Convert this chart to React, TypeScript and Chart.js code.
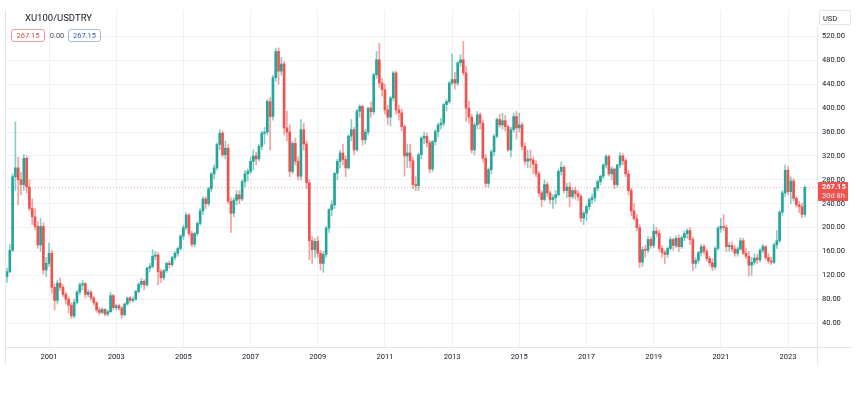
import React, { useEffect, useRef } from "react";
import { Chart, registerables } from "chart.js";

Chart.register(...registerables);

// ---- Data: monthly candles, Oct 1999 .. Jul 2023 ----
const startYear = 1999;
const startMonth = 10;

const opens = [
  118, 126, 162,
  285, 300, 280, 272, 316, 268, 232, 218, 202, 171, 202, 129,
  140, 157, 100, 78, 107, 100, 88, 80, 70, 52, 75, 92,
  104, 106, 88, 92, 82, 74, 62, 58, 63, 55, 59, 86,
  66, 69, 65, 54, 72, 82, 78, 80, 93, 105, 110, 104,
  132, 135, 152, 154, 126, 116, 128, 140, 138, 150, 157, 165,
  186, 200, 221, 190, 172, 190, 207, 228, 248, 240, 265, 290,
  300, 339, 358, 322, 333, 244, 224, 246, 255, 248, 277, 290,
  294, 311, 320, 315, 336, 358, 360, 411, 386, 451, 495, 462,
  474, 367, 360, 294, 341, 311, 286, 364, 340, 275, 178, 163,
  177, 157, 140, 155, 199, 230, 238, 291, 311, 325, 314, 300,
  353, 364, 330, 395, 403, 347, 360, 400, 394, 456, 481, 442,
  431, 397, 385, 417, 459, 397, 392, 369, 320, 325, 312, 272,
  270, 322, 350, 353, 342, 298, 344, 361, 372, 375, 406, 411,
  442, 448, 442, 476, 481, 459, 400, 385, 330, 372, 389, 375,
  316, 274, 297, 327, 353, 381, 372, 379, 369, 330, 364, 386,
  367, 372, 336, 311, 315, 313, 306, 290, 258, 247, 272, 258,
  247, 250, 255, 294, 301, 262, 268, 252, 262, 257, 252, 216,
  224, 235, 247, 250, 266, 277, 286, 305, 319, 290, 298, 272,
  305, 320, 312, 290, 262, 228, 215, 200, 142, 163, 162, 180,
  170, 194, 190, 165, 158, 155, 165, 180, 170, 182, 168, 183,
  190, 195, 180, 140, 145, 158, 168, 160, 148, 141, 134, 165,
  199, 202, 200, 168, 170, 164, 157, 164, 178, 157, 152, 137,
  142, 149, 146, 162, 168, 150, 144, 142, 171, 178, 226, 258,
  296, 260, 278, 249, 238, 235, 222,
];

const highs = [
  132, 172, 290,
  377, 318, 292, 322, 320, 280, 248, 232, 210, 215, 208, 150,
  174, 162, 106, 112, 116, 104, 92, 84, 74, 80, 95, 108,
  112, 108, 96, 95, 85, 76, 66, 66, 64, 62, 92, 88,
  72, 72, 68, 74, 84, 85, 84, 95, 108, 115, 113, 134,
  140, 163, 160, 158, 130, 130, 142, 144, 152, 160, 168, 188,
  204, 225, 224, 194, 192, 210, 232, 252, 252, 268, 292, 305,
  342, 364, 362, 345, 340, 250, 250, 262, 262, 280, 296, 298,
  318, 330, 326, 340, 362, 368, 415, 418, 455, 500, 501, 485,
  478, 395, 372, 345, 350, 318, 381, 375, 345, 280, 185, 182,
  185, 162, 160, 202, 232, 245, 292, 315, 330, 340, 320, 356,
  381, 368, 398, 406, 405, 365, 402, 410, 458, 495, 509, 450,
  440, 405, 420, 462, 462, 405, 398, 372, 340, 340, 318, 285,
  325, 352, 360, 358, 346, 346, 364, 375, 383, 408, 415, 445,
  491, 460, 478, 490, 512, 470, 412, 390, 376, 395, 392, 380,
  322, 300, 330, 356, 384, 390, 392, 388, 372, 368, 392, 395,
  392, 376, 342, 330, 330, 318, 312, 294, 262, 280, 276, 262,
  255, 262, 298, 310, 304, 274, 276, 266, 268, 262, 256, 228,
  238, 250, 256, 268, 280, 288, 306, 322, 322, 302, 300, 306,
  325, 324, 316, 296, 266, 240, 222, 205, 168, 170, 185, 184,
  205, 200, 196, 170, 162, 168, 184, 182, 186, 188, 186, 194,
  198, 200, 184, 150, 160, 172, 172, 164, 152, 148, 168, 202,
  215, 222, 204, 175, 176, 170, 168, 183, 182, 165, 160, 150,
  156, 155, 165, 172, 170, 156, 150, 174, 195, 228, 262, 305,
  302, 285, 282, 252, 244, 240, 270,
];

const lows = [
  108, 124, 160,
  262, 238, 255, 262, 258, 228, 205, 196, 165, 160, 122, 118,
  135, 90, 62, 72, 95, 84, 72, 57, 48, 49, 72, 88,
  96, 82, 84, 78, 70, 58, 54, 56, 52, 52, 58, 62,
  62, 62, 48, 52, 70, 74, 75, 78, 90, 100, 96, 102,
  126, 132, 146, 104, 108, 112, 125, 132, 135, 146, 152, 162,
  180, 196, 186, 168, 168, 186, 204, 222, 232, 236, 260, 282,
  296, 330, 318, 315, 240, 192, 218, 238, 240, 245, 268, 278,
  290, 296, 305, 312, 330, 340, 355, 330, 380, 445, 440, 455,
  355, 345, 285, 290, 305, 280, 280, 330, 265, 146, 140, 150,
  150, 129, 125, 150, 192, 220, 232, 280, 300, 305, 285, 298,
  345, 322, 328, 385, 338, 340, 355, 385, 390, 450, 435, 420,
  390, 372, 370, 412, 390, 380, 362, 286, 300, 300, 265, 262,
  262, 315, 340, 335, 292, 294, 338, 352, 365, 370, 395, 408,
  438, 432, 438, 470, 455, 378, 375, 325, 322, 365, 365, 310,
  268, 268, 290, 320, 350, 368, 365, 362, 328, 318, 360, 348,
  360, 330, 305, 300, 300, 290, 285, 252, 235, 244, 252, 240,
  232, 240, 252, 288, 258, 250, 235, 248, 248, 245, 210, 205,
  212, 230, 240, 244, 262, 272, 282, 300, 286, 280, 265, 268,
  300, 305, 285, 255, 220, 212, 195, 133, 135, 150, 158, 165,
  166, 185, 160, 150, 140, 150, 162, 162, 166, 160, 165, 178,
  182, 172, 128, 132, 140, 152, 155, 144, 136, 128, 130, 162,
  192, 195, 160, 160, 160, 152, 152, 162, 155, 148, 119, 120,
  138, 140, 142, 158, 146, 140, 138, 140, 165, 175, 220, 252,
  255, 240, 245, 234, 225, 216, 218,
];

const closes = [
  126, 162, 285,
  300, 280, 272, 316, 268, 232, 218, 202, 171, 202, 129, 140,
  157, 100, 78, 107, 100, 88, 80, 70, 52, 75, 92, 104,
  106, 88, 92, 82, 74, 62, 58, 63, 55, 59, 86, 66,
  69, 65, 54, 72, 82, 78, 80, 93, 105, 110, 104, 132,
  135, 152, 154, 126, 116, 128, 140, 138, 150, 157, 165, 186,
  200, 221, 190, 172, 190, 207, 228, 248, 240, 265, 290, 300,
  339, 358, 322, 333, 244, 224, 246, 255, 248, 277, 290, 294,
  311, 320, 315, 336, 358, 360, 411, 386, 451, 495, 462, 474,
  367, 360, 294, 341, 311, 286, 364, 340, 275, 178, 163, 177,
  157, 140, 155, 199, 230, 238, 291, 311, 325, 314, 300, 353,
  364, 330, 395, 403, 347, 360, 400, 394, 456, 481, 442, 431,
  397, 385, 417, 459, 397, 392, 369, 320, 325, 312, 272, 270,
  322, 350, 353, 342, 298, 344, 361, 372, 375, 406, 411, 442,
  448, 442, 476, 481, 459, 400, 385, 330, 372, 389, 375, 316,
  274, 297, 327, 353, 381, 372, 379, 369, 330, 364, 386, 367,
  372, 336, 311, 315, 313, 306, 290, 258, 247, 272, 258, 247,
  250, 255, 294, 301, 262, 268, 252, 262, 257, 252, 216, 224,
  235, 247, 250, 266, 277, 286, 305, 319, 290, 298, 272, 305,
  320, 312, 290, 262, 228, 215, 200, 142, 163, 162, 180, 170,
  194, 190, 165, 158, 155, 165, 180, 170, 182, 168, 183, 190,
  195, 180, 140, 145, 158, 168, 160, 148, 141, 134, 165, 199,
  202, 200, 168, 170, 164, 157, 164, 178, 157, 152, 137, 142,
  149, 146, 162, 168, 150, 144, 142, 171, 178, 226, 258, 296,
  260, 278, 249, 238, 235, 222, 267.15,
];

const yTickValues = [40, 80, 120, 160, 200, 240, 280, 320, 360, 400, 440, 480, 520];
const xTickYears = [2001, 2003, 2005, 2007, 2009, 2011, 2013, 2015, 2017, 2019, 2021, 2023];

const symbolTitle = "XU100/USDTRY";
const lastPrice = 267.15;
const changeText = "0.00";
const countdownText = "30d 8h";
const currencyText = "USD";

// ---- Styles ----
const UP = "#26a69a";
const DOWN = "#ef5350";
const UP_WICK = "rgba(38,166,154,0.55)";
const DOWN_WICK = "rgba(239,83,80,0.55)";
const GRID = "#f0f1f4";
const BORDER = "#e3e5ea";
const TEXT = "#131722";
const FONT = "Roboto, 'Noto Sans', sans-serif";

export default function App() {
  const ref = useRef<HTMLCanvasElement | null>(null);

  useEffect(() => {
    document.body.style.margin = "0";
    const canvas = ref.current;
    if (!canvas) return;

    const times = closes.map((_, i) => startYear + (startMonth - 1 + i) / 12);
    const isUp = closes.map((c, i) => c >= opens[i]);

    const decorPlugin = {
      id: "decor",
      beforeDatasetsDraw(chart: any) {
        const { ctx, chartArea, scales } = chart;
        const y = scales.y.getPixelForValue(lastPrice);
        ctx.save();
        ctx.strokeStyle = "rgba(200,120,120,0.55)";
        ctx.lineWidth = 1;
        ctx.setLineDash([1, 2]);
        ctx.beginPath();
        ctx.moveTo(chartArea.left, Math.round(y) + 0.5);
        ctx.lineTo(chartArea.right, Math.round(y) + 0.5);
        ctx.stroke();
        ctx.restore();
      },
      afterDraw(chart: any) {
        const { ctx, chartArea, scales } = chart;
        ctx.save();
        ctx.strokeStyle = BORDER;
        ctx.lineWidth = 1;
        ctx.setLineDash([]);
        ctx.beginPath();
        ctx.moveTo(chartArea.left, chartArea.bottom + 0.5);
        ctx.lineTo(852, chartArea.bottom + 0.5);
        ctx.moveTo(chartArea.right - 0.5, 27);
        ctx.lineTo(chartArea.right - 0.5, 365);
        ctx.moveTo(chartArea.left + 0.5, chartArea.top);
        ctx.lineTo(chartArea.left + 0.5, 365);
        ctx.stroke();

        const y = scales.y.getPixelForValue(lastPrice);
        const x0 = chartArea.right;
        ctx.fillStyle = "#ef5350";
        ctx.fillRect(x0, y - 5.5, 30, 19);
        ctx.textBaseline = "middle";
        ctx.textAlign = "left";
        ctx.fillStyle = "#ffffff";
        ctx.font = `bold 7.5px ${FONT}`;
        ctx.fillText(lastPrice.toFixed(2), x0 + 4, y);
        ctx.fillStyle = "rgba(255,255,255,0.85)";
        ctx.font = `7.5px ${FONT}`;
        ctx.fillText(countdownText, x0 + 4, y + 8.5);
        ctx.restore();
      },
    };

    const chart = new Chart(canvas, {
      type: "bar",
      data: {
        datasets: [
          {
            label: "body",
            data: times.map((t, i) => ({ x: t, y: [opens[i], closes[i]] })) as any,
            backgroundColor: isUp.map((u) => (u ? UP : DOWN)),
            barThickness: 2,
            minBarLength: 1,
            grouped: false,
          } as any,
          {
            label: "wick",
            data: times.map((t, i) => ({ x: t, y: [lows[i], highs[i]] })) as any,
            backgroundColor: isUp.map((u) => (u ? UP_WICK : DOWN_WICK)),
            barThickness: 1,
            grouped: false,
          } as any,
        ],
      },
      options: {
        responsive: false,
        animation: false,
        layout: { padding: { left: 5, top: 10, right: 0, bottom: 34 } },
        plugins: {
          legend: { display: false },
          tooltip: { enabled: false },
          title: { display: false },
        },
        scales: {
          x: {
            type: "linear",
            offset: false,
            min: 1999.69,
            max: 2023.893,
            grid: { color: GRID, drawTicks: false, lineWidth: 1, offset: false },
            border: { display: false },
            ticks: {
              color: TEXT,
              font: { family: FONT, size: 7.5 },
              padding: 6,
              maxRotation: 0,
              autoSkip: false,
              callback: (v: any) => String(v),
            },
            afterBuildTicks: (scale: any) => {
              scale.ticks = xTickYears.map((v) => ({ value: v }));
            },
            afterFit: (scale: any) => {
              scale.height = 18;
            },
          },
          y: {
            type: "linear",
            position: "right",
            min: 0,
            max: 564.4,
            grid: { color: GRID, drawTicks: false, lineWidth: 1 },
            border: { display: false },
            ticks: {
              color: TEXT,
              font: { family: FONT, size: 7.5 },
              padding: 4,
              callback: (v: any) => Number(v).toFixed(2),
            },
            afterBuildTicks: (scale: any) => {
              scale.ticks = yTickValues.map((v) => ({ value: v }));
            },
            afterFit: (scale: any) => {
              scale.width = 38;
            },
          },
        },
      } as any,
      plugins: [decorPlugin],
    });

    return () => chart.destroy();
  }, []);

  const boxBase: React.CSSProperties = {
    position: "absolute",
    top: 29,
    height: 11,
    lineHeight: "11px",
    borderRadius: 3,
    fontSize: 7.5,
    textAlign: "center",
    fontFamily: FONT,
  };

  return (
    <div style={{ position: "relative", width: 856, height: 399, background: "#ffffff" }}>
      <canvas ref={ref} width={856} height={399} style={{ display: "block" }} />
      <div
        style={{
          position: "absolute",
          left: 25,
          top: 12,
          fontFamily: FONT,
          fontSize: 9.5,
          lineHeight: "12px",
          color: TEXT,
        }}
      >
        {symbolTitle}
      </div>
      <div style={{ ...boxBase, left: 11, width: 32, border: "1px solid #e3a2a2", color: "#d9534f" }}>
        {lastPrice.toFixed(2)}
      </div>
      <div style={{ ...boxBase, left: 48, width: 16, color: "#50535e", border: "1px solid transparent" }}>
        {changeText}
      </div>
      <div style={{ ...boxBase, left: 68, width: 31, border: "1px solid #a9bbdd", color: "#3f63a8" }}>
        {lastPrice.toFixed(2)}
      </div>
      <div
        style={{
          position: "absolute",
          left: 819,
          top: 10,
          width: 32,
          height: 15,
          lineHeight: "15px",
          border: "1px solid #e3e5ea",
          borderRadius: 2,
          fontFamily: FONT,
          fontSize: 7.5,
          color: TEXT,
          paddingLeft: 3,
          boxSizing: "border-box",
        }}
      >
        {currencyText}
      </div>
    </div>
  );
}
